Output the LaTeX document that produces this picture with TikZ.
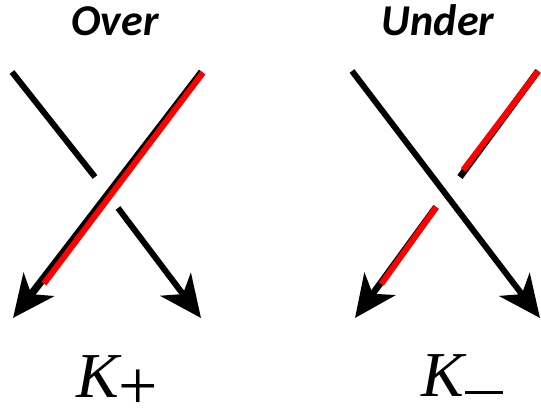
\documentclass[tikz,border=0pt]{standalone}
\usepackage{fontspec}
\newfontfamily\labfont{Carlito}
\newfontfamily\kfont{Liberation Serif}
\usetikzlibrary{arrows.meta}
\definecolor{kred}{RGB}{255,0,0}
\newcommand{\kbig}{{\kfont\fontsize{64}{70}\selectfont\itshape K}}
\tikzset{
  strand/.style={line width=6pt, black},
  arrowstrand/.style={strand, -{Stealth[length=42pt,width=38pt,inset=12pt]}},
  redover/.style={line width=6pt, kred},
  title/.style={font=\labfont\bfseries\itshape\fontsize{44}{46}\selectfont, inner sep=0pt, anchor=base},
  klab/.style={inner sep=0pt, anchor=base west},
}
\begin{document}
\begin{tikzpicture}[x=1pt,y=-1pt]
\useasboundingbox (0,0) rectangle (541,410);
% left panel (Over)
\coordinate (la1) at (12,72);
\coordinate (la2) at (95,177);
\coordinate (lb1) at (118,208);
\coordinate (lb2) at (201,318);
\coordinate (lr1) at (202,72);
\coordinate (lr2) at (13,318);
\coordinate (lr3) at (43,283);
\draw[strand] (la1) -- (la2);
\draw[arrowstrand] (lb1) -- (lb2);
\draw[arrowstrand, line width=7.5pt] (lr1) -- (lr2);
\draw[redover] ([xshift=0.9pt,yshift=-0.7pt]lr1) -- ([xshift=0.9pt,yshift=-0.7pt]lr3);
\node[title] (over) at (115,35) {Over};
\node[klab] (kp) at (76,397) {\kbig{\kfont\fontsize{70}{72}\selectfont\raisebox{-12pt}{+}}};
% right panel (Under)
\coordinate (ra1) at (352,71);
\coordinate (ra2) at (540,318);
\coordinate (rr1) at (538,71);
\coordinate (rr2) at (460,177);
\coordinate (rr3) at (463,170);
\coordinate (rs1) at (436,207);
\coordinate (rs2) at (355,318);
\coordinate (rs3) at (381,284);
\draw[arrowstrand] (ra1) -- (ra2);
\draw[strand, line width=6.5pt] (rr1) -- (rr2);
\draw[redover] ([xshift=0.3pt]rr1) -- ([xshift=0.3pt]rr3);
\draw[arrowstrand, line width=6.5pt] (rs1) -- (rs2);
\draw[redover] ([xshift=0.3pt]rs1) -- ([xshift=0.3pt]rs3);
\node[title] (under) at (438,35) {Under};
\node[klab] (km) at (421,396) {\kbig\kern1pt\rule[2.5pt]{38pt}{2.4pt}};
\end{tikzpicture}
\end{document}
